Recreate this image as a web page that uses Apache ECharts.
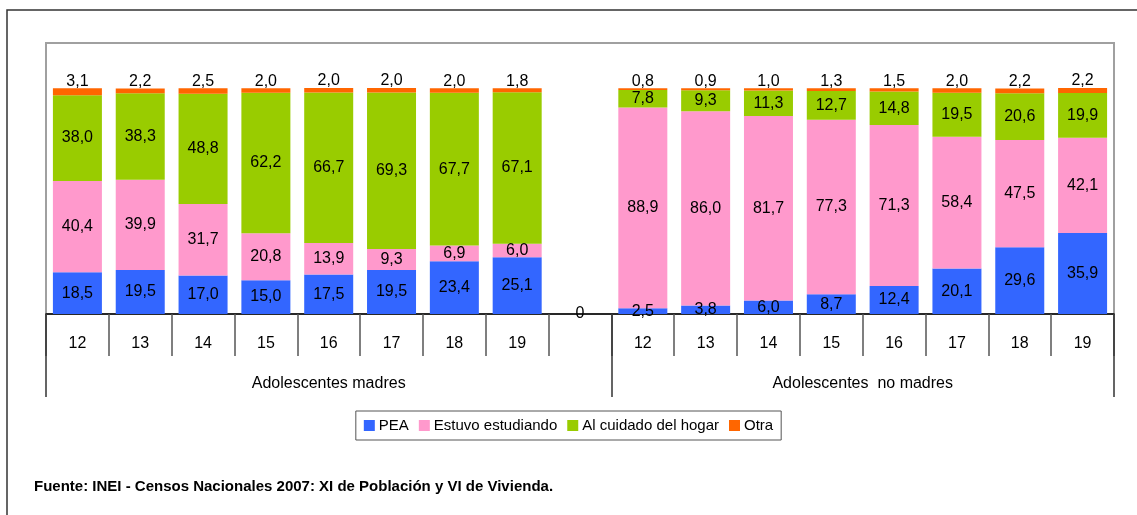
<!DOCTYPE html>
<html>
<head>
<meta charset="utf-8">
<script src="https://cdn.jsdelivr.net/npm/echarts@6/dist/echarts.min.js"></script>
<style>html,body{margin:0;padding:0;background:#fff}#c{width:1137px;height:515px}</style>
</head>
<body>
<div id="c"></div>
<script>
const categories = ['12','13','14','15','16','17','18','19','','12','13','14','15','16','17','18','19'];
const groupLabels = ['Adolescentes madres', 'Adolescentes  no madres'];
const seriesNames = ['PEA', 'Estuvo estudiando', 'Al cuidado del hogar', 'Otra'];

const madresPEA     = [18.5, 19.5, 17.0, 15.0, 17.5, 19.5, 23.4, 25.1];
const madresEstudio = [40.4, 39.9, 31.7, 20.8, 13.9, 9.3, 6.9, 6.0];
const madresHogar   = [38.0, 38.3, 48.8, 62.2, 66.7, 69.3, 67.7, 67.1];
const madresOtra    = [3.1, 2.2, 2.5, 2.0, 2.0, 2.0, 2.0, 1.8];

const noMadresPEA     = [2.5, 3.8, 6.0, 8.7, 12.4, 20.1, 29.6, 35.9];
const noMadresEstudio = [88.9, 86.0, 81.7, 77.3, 71.3, 58.4, 47.5, 42.1];
const noMadresHogar   = [7.8, 9.3, 11.3, 12.7, 14.8, 19.5, 20.6, 19.9];
const noMadresOtra    = [0.8, 0.9, 1.0, 1.3, 1.5, 2.0, 2.2, 2.2];

const gapPEA = 0;

const colors = ['#3366FF', '#FF99CC', '#99CC00', '#FF6600'];
const FONT = '"Liberation Sans Narrow", "Liberation Sans", Arial, sans-serif';

const dataPEA = madresPEA.concat([gapPEA], noMadresPEA);
const dataEst = madresEstudio.concat(['-'], noMadresEstudio);
const dataHog = madresHogar.concat(['-'], noMadresHogar);
const dataOtr = madresOtra.concat(['-'], noMadresOtra);

const fmt = p => {
  const v = p.value;
  if (v === '-' || v == null) return '';
  if (v === 0) return '0';
  return v.toFixed(1).replace('.', ',');
};

// secondary axis in half-category steps (boundaryGap false): 35 points
const groupAxisData = [];
for (let i = 0; i <= 34; i++) groupAxisData.push('');
groupAxisData[9] = groupLabels[0];
groupAxisData[26] = groupLabels[1];

const labelStyle = { show: true, formatter: fmt, color: '#000', fontSize: 16, fontFamily: FONT };

function mk(name, data, idx, pos) {
  return {
    name: name, type: 'bar', stack: 'total', data: data,
    xAxisIndex: 0, barWidth: 49,
    itemStyle: { color: colors[idx] },
    label: Object.assign({}, labelStyle, { position: pos || 'inside', distance: pos === 'top' ? -1 : 5 }),
    emphasis: { disabled: true }
  };
}

const chart = echarts.init(document.getElementById('c'), null, { renderer: 'canvas' });
chart.setOption({
  animation: false,
  backgroundColor: '#fff',
  textStyle: { fontFamily: FONT },
  grid: { left: 46, right: 23, top: 43, bottom: 201, show: true, borderColor: '#a0a0a0', borderWidth: 2, backgroundColor: 'transparent' },
  legend: {
    data: seriesNames, left: 'center', top: 411, icon: 'rect',
    itemWidth: 11, itemHeight: 11, itemGap: 10,
    borderColor: '#555', borderWidth: 1, padding: [7, 8],
    textStyle: { fontSize: 15, fontFamily: FONT, color: '#000', padding: [0, 0, 0, -1] }
  },
  xAxis: [
    {
      type: 'category', data: categories, position: 'bottom',
      axisLine: { show: true, lineStyle: { color: '#000', width: 1.5 } },
      axisTick: { show: true, interval: 0, alignWithLabel: false, length: 42, lineStyle: { color: '#555', width: 1.5 } },
      axisLabel: { interval: 0, margin: 22, fontSize: 16, color: '#000', fontFamily: FONT },
      splitLine: { show: false }
    },
    {
      type: 'category', data: groupAxisData, position: 'bottom', boundaryGap: false,
      axisLine: { show: false },
      axisTick: { show: true, interval: i => (i === 0 || i === 18 || i === 34), length: 83, lineStyle: { color: '#333', width: 1.5 } },
      axisLabel: { interval: i => (i === 9 || i === 26), margin: 62, fontSize: 16, color: '#000', fontFamily: FONT },
      splitLine: { show: false }
    }
  ],
  yAxis: { type: 'value', min: 0, max: 120, show: false, splitLine: { show: false } },
  series: [
    mk(seriesNames[0], dataPEA, 0),
    mk(seriesNames[1], dataEst, 1),
    mk(seriesNames[2], dataHog, 2),
    mk(seriesNames[3], dataOtr, 3, 'top')
  ],
  graphic: [
    { type: 'rect', silent: true, z: 100, shape: { x: 7, y: 10, width: 1200, height: 600 }, style: { fill: 'none', stroke: '#333', lineWidth: 1.5 } },
    { type: 'text', silent: true, left: 34, top: 479, style: { text: 'Fuente: INEI - Censos Nacionales 2007: XI de Población y VI de Vivienda.', fontSize: 15, fontWeight: 'bold', fontFamily: FONT, fill: '#000' } }
  ]
});
</script>
</body>
</html>
